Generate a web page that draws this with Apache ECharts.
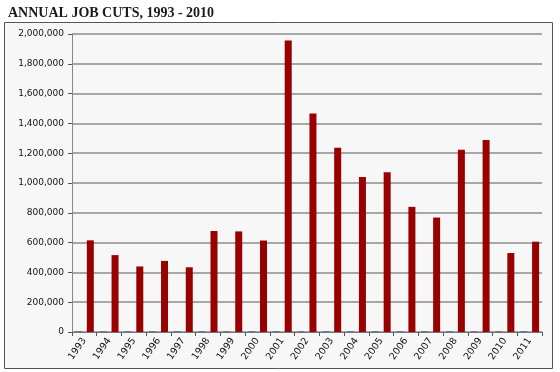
<!DOCTYPE html>
<html>
<head>
<meta charset="utf-8">
<script src="https://cdn.jsdelivr.net/npm/echarts@6/dist/echarts.min.js"></script>
<style>
html,body{margin:0;padding:0;background:#fff;}
#c{width:560px;height:372px;}
</style>
</head>
<body>
<div id="c"></div>
<script>
const years = ['1993','1994','1995','1996','1997','1998','1999','2000','2001','2002','2003','2004','2005','2006','2007','2008','2009','2010','2011'];
const jobCuts = [615186,516069,439882,477147,434350,677795,675132,613960,1956876,1466874,1236426,1039935,1072054,839822,768264,1223993,1288030,529973,606082];
const smallSeries = [4000,4000,4000,4000,4000,4000,4000,4000,4000,4000,4000,4000,4000,4000,4000,4000,4000,4000,4000];
const titleText = 'ANNUAL JOB CUTS, 1993 - 2010';

const chart = echarts.init(document.getElementById('c'), null, {renderer:'canvas'});
chart.setOption({
  animation:false,
  backgroundColor:'#fff',
  title:{
    text:titleText, left:3, top:1,
    textStyle:{fontFamily:'Liberation Serif', fontWeight:'bold', fontSize:14, color:'#1a1a1a'}
  },
  graphic:[{
    type:'rect', z:-10, silent:true,
    shape:{x:4.5, y:22.5, width:548, height:346},
    style:{fill:'#f7f7f7', stroke:'#555', lineWidth:1}
  }],
  grid:{left:72, right:18, top:34, bottom:40},
  xAxis:{
    type:'category', data:years,
    axisLine:{lineStyle:{color:'#777', width:1}},
    axisTick:{show:true, length:4, lineStyle:{color:'#555'}},
    axisLabel:{rotate:55, fontSize:9.5, fontFamily:'DejaVu Sans', color:'#111', margin:7, interval:0}
  },
  yAxis:{
    type:'value', min:0, max:2000000, interval:200000,
    axisLine:{show:true, lineStyle:{color:'#888', width:1}},
    axisTick:{show:true, length:4, lineStyle:{color:'#555'}},
    axisLabel:{fontSize:9, fontFamily:'DejaVu Sans', color:'#111', margin:8,
      formatter:v=>v.toLocaleString('en-US')},
    splitLine:{lineStyle:{color:'#8c8c8c', width:1.5}}
  },
  series:[
    {type:'bar', data:smallSeries, barWidth:7, barGap:'70%', itemStyle:{color:'#3d5a80'}},
    {type:'bar', data:jobCuts, barWidth:7, itemStyle:{color:'#990000'}}
  ]
});
</script>
</body>
</html>
